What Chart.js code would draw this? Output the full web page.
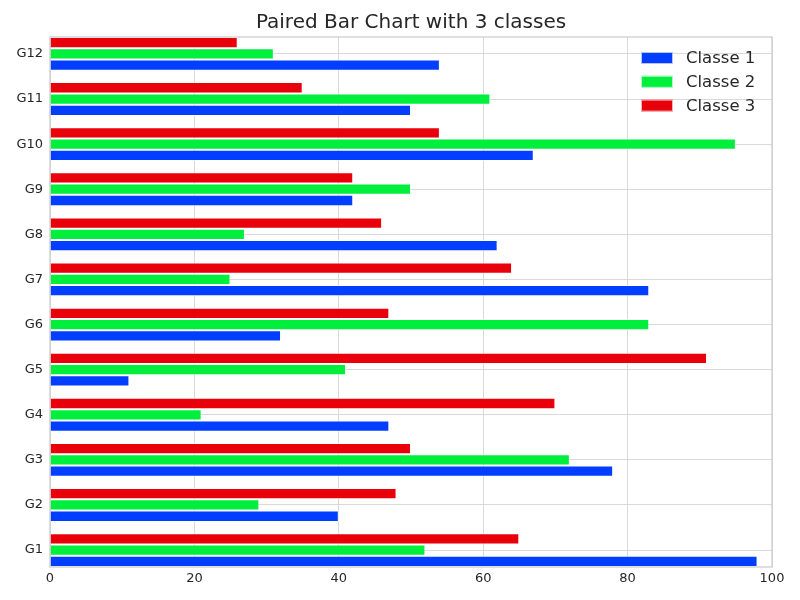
<!DOCTYPE html>
<html>
<head>
<meta charset="utf-8">
<title>Paired Bar Chart with 3 classes</title>
<script src="https://cdn.jsdelivr.net/npm/chart.js@4.4.1/dist/chart.umd.min.js"></script>
<style>
  body { margin: 0; background: #fff; }
  #wrap { width: 800px; height: 600px; }
</style>
</head>
<body>
<div id="wrap"><canvas id="chart" width="800" height="600"></canvas></div>
<script>
const categories = ["G1", "G2", "G3", "G4", "G5", "G6", "G7", "G8", "G9", "G10", "G11", "G12"];
const classe1 = [98, 40, 78, 47, 11, 32, 83, 62, 42, 67, 50, 54];
const classe2 = [52, 29, 72, 21, 41, 83, 25, 27, 50, 95, 61, 31];
const classe3 = [65, 48, 50, 70, 91, 47, 64, 46, 42, 54, 35, 26];
const seriesNames = ["Classe 1", "Classe 2", "Classe 3"];
const seriesColors = ["#023eff", "#00ee3c", "#e8000b"];
const xTicks = [0, 20, 40, 60, 80, 100];
const chartTitle = "Paired Bar Chart with 3 classes";

const FONT = "'DejaVu Sans', sans-serif";
const TEXT = "#262626";

function toPoints(values) {
  return values.map((v, i) => ({ x: v, y: i }));
}

// title centred over the plot area (matplotlib style), not the whole canvas
const plotTitle = {
  id: "plotTitle",
  afterDraw(chart) {
    const { ctx, chartArea } = chart;
    ctx.save();
    ctx.font = "20px " + FONT;
    ctx.fillStyle = TEXT;
    ctx.textAlign = "center";
    ctx.textBaseline = "middle";
    ctx.fillText(chartTitle, (chartArea.left + chartArea.right) / 2, chartArea.top - 14);
    ctx.restore();
  }
};

// legend drawn inside the plot, top right
const innerLegend = {
  id: "innerLegend",
  afterDraw(chart) {
    const { ctx, chartArea } = chart;
    ctx.save();
    ctx.font = "16.5px " + FONT;
    ctx.textBaseline = "middle";
    seriesNames.forEach((name, i) => {
      const y = chartArea.top + 21 + i * 23.8;
      const x = chartArea.right - 131;
      ctx.fillStyle = seriesColors[i];
      ctx.fillRect(x, y - 6, 32, 12);
      ctx.strokeStyle = "rgba(255,255,255,0.7)";
      ctx.lineWidth = 1;
      ctx.strokeRect(x + 0.5, y - 5.5, 31, 11);
      ctx.fillStyle = TEXT;
      ctx.fillText(name, x + 45, y + 1);
    });
    ctx.restore();
  }
};

// light frame on all four sides
const frame = {
  id: "frame",
  afterDatasetsDraw(chart) {
    const { ctx, chartArea } = chart;
    ctx.save();
    ctx.strokeStyle = "#cccccc";
    ctx.lineWidth = 1.25;
    ctx.strokeRect(chartArea.left, chartArea.top, chartArea.right - chartArea.left, chartArea.bottom - chartArea.top);
    ctx.restore();
  }
};

const datasets = [
  { label: seriesNames[2], data: toPoints(classe3), backgroundColor: seriesColors[2] },
  { label: seriesNames[1], data: toPoints(classe2), backgroundColor: seriesColors[1] },
  { label: seriesNames[0], data: toPoints(classe1), backgroundColor: seriesColors[0] }
].map((d) => ({
  ...d,
  borderColor: "rgba(255,255,255,0.7)",
  borderWidth: 1,
  categoryPercentage: 0.75,
  barPercentage: 1
}));

new Chart(document.getElementById("chart"), {
  type: "bar",
  data: { datasets },
  plugins: [frame, innerLegend, plotTitle],
  options: {
    indexAxis: "y",
    responsive: false,
    animation: false,
    layout: { padding: { left: 0, right: 28, top: 37, bottom: 0 } },
    plugins: {
      legend: { display: false },
      tooltip: { enabled: false },
      title: { display: false }
    },
    scales: {
      x: {
        type: "linear",
        min: 0,
        max: 100,
        afterBuildTicks: (scale) => {
          scale.ticks = xTicks.map((v) => ({ value: v }));
        },
        afterFit: (scale) => { scale.height = 33; },
        ticks: { color: TEXT, font: { family: FONT, size: 13 }, padding: 4, maxRotation: 0 },
        grid: { color: "#d9d9d9", lineWidth: 1, drawTicks: false },
        border: { display: false }
      },
      y: {
        type: "linear",
        min: -0.375,
        max: categories.length - 1 + 0.375,
        offset: false,
        afterBuildTicks: (scale) => {
          scale.ticks = categories.map((c, i) => ({ value: i }));
        },
        afterFit: (scale) => { scale.width = 50; },
        ticks: {
          color: TEXT,
          font: { family: FONT, size: 13 },
          padding: 7,
          callback: (v) => categories[v]
        },
        grid: { color: "#d9d9d9", lineWidth: 1, drawTicks: false, offset: false },
        border: { display: false }
      }
    }
  }
});
</script>
</body>
</html>
